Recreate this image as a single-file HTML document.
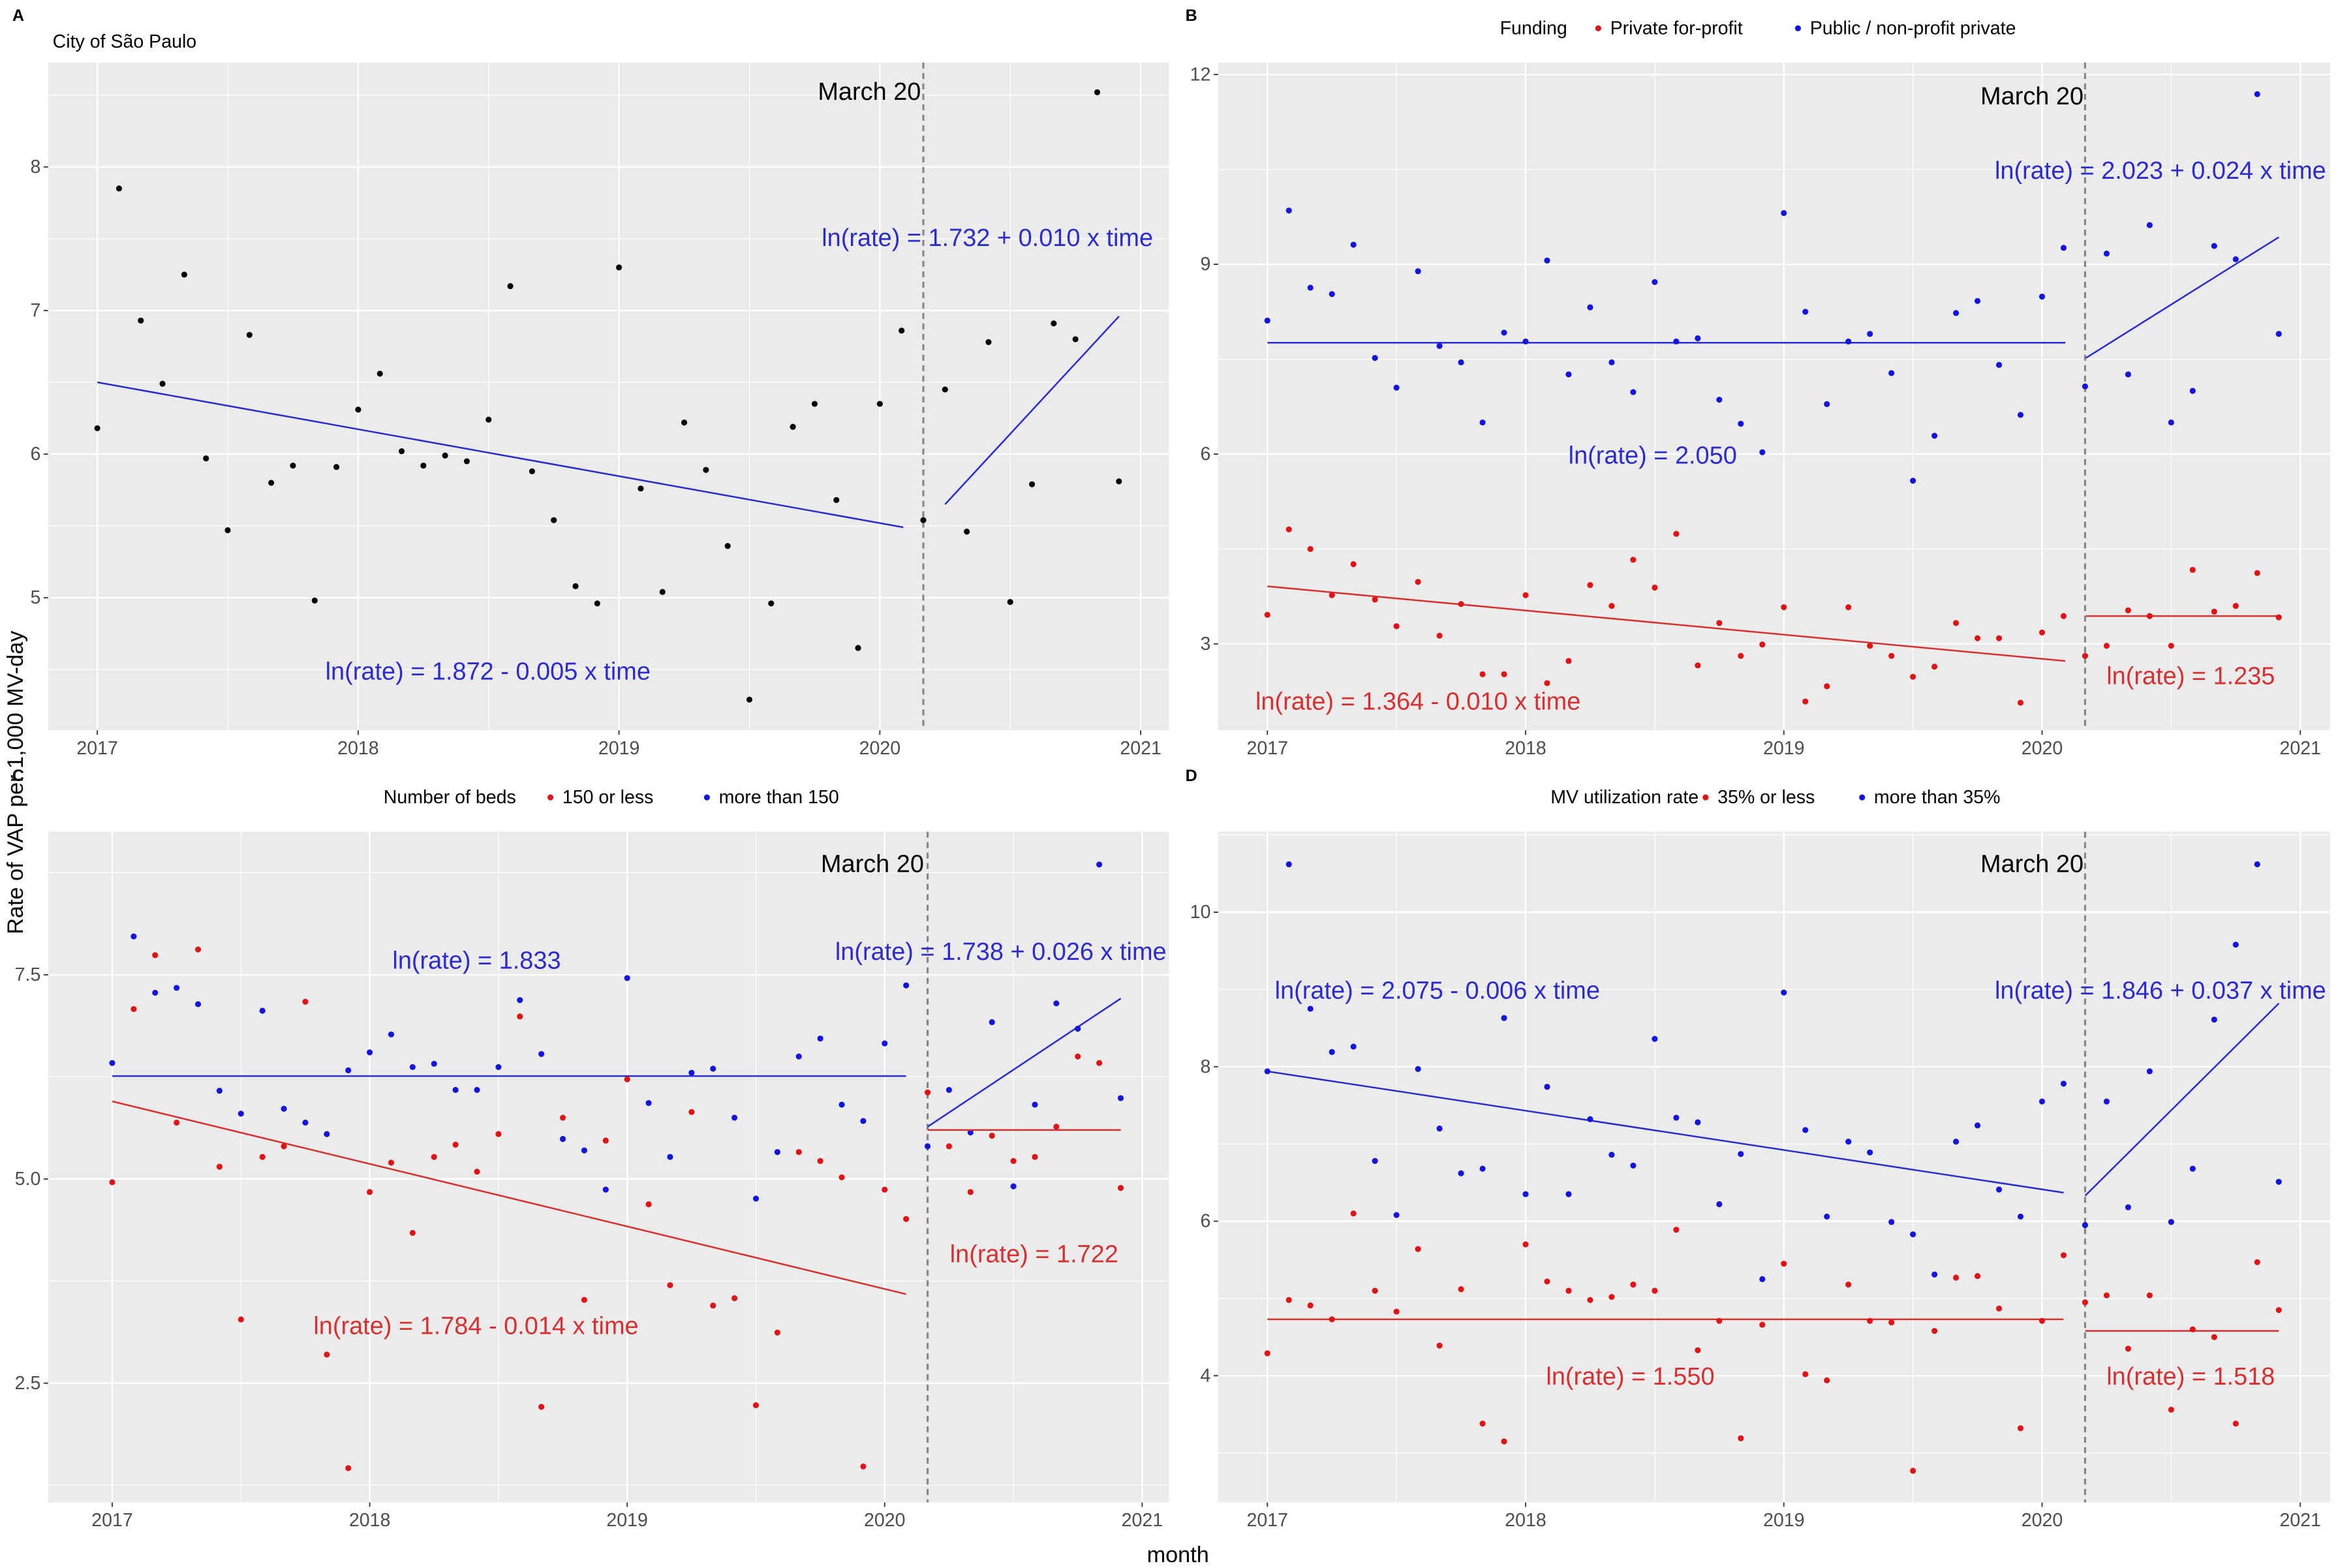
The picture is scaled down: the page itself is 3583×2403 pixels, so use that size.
<!DOCTYPE html>
<html><head><meta charset="utf-8"><style>
html,body{margin:0;padding:0;background:#fff}
svg{display:block}
text{font-family:"Liberation Sans",sans-serif}
</style></head><body>
<svg id="chart" width="3583" height="2403" viewBox="0 0 1568 1052" xmlns="http://www.w3.org/2000/svg"></svg>
<script>
// ---- data (monthly, Jan 2017 .. Dec 2020) ----
const years = [2017, 2018, 2019, 2020, 2021];
const aRate = [6.18,7.85,6.93,6.49,7.25,5.97,5.47,6.83,5.80,5.92,4.98,5.91,6.31,6.56,6.02,5.92,5.99,5.95,6.24,7.17,5.88,5.54,5.08,4.96,7.30,5.76,5.04,6.22,5.89,5.36,4.29,4.96,6.19,6.35,5.68,4.65,6.35,6.86,5.54,6.45,5.46,6.78,4.97,5.79,6.91,6.80,8.52,5.81];
const bPublic = [8.11,9.85,8.63,8.53,9.31,7.52,7.05,8.89,7.71,7.45,6.50,7.92,7.78,9.06,7.26,8.32,7.45,6.98,8.72,7.78,7.83,6.86,6.48,6.03,9.81,8.25,6.79,7.78,7.90,7.28,5.58,6.29,8.23,8.42,7.41,6.62,8.49,9.26,7.07,9.17,7.26,9.62,6.50,7.00,9.29,9.08,11.69,7.90];
const bPrivate = [3.46,4.81,4.50,3.77,4.26,3.70,3.28,3.98,3.13,3.63,2.52,2.52,3.77,2.38,2.73,3.93,3.60,4.33,3.89,4.74,2.66,3.33,2.81,2.99,3.58,2.09,2.33,3.58,2.97,2.81,2.48,2.64,3.33,3.09,3.09,2.07,3.18,3.44,2.81,2.97,3.53,3.44,2.97,4.17,3.51,3.60,4.12,3.42];
const cLarge = [6.42,7.97,7.28,7.34,7.14,6.08,5.80,7.06,5.86,5.69,5.55,6.33,6.55,6.77,6.37,6.41,6.09,6.09,6.37,7.19,6.53,5.49,5.35,4.87,7.46,5.93,5.27,6.30,6.35,5.75,4.76,5.33,6.50,6.72,5.91,5.71,6.66,7.37,5.40,6.09,5.57,6.92,4.91,5.91,7.15,6.84,8.85,5.99];
const cSmall = [4.96,7.08,7.74,5.69,7.81,5.15,3.28,5.27,5.40,7.17,2.85,1.46,4.84,5.20,4.34,5.27,5.42,5.09,5.55,6.99,2.21,5.75,3.52,5.47,6.22,4.69,3.70,5.82,3.45,3.54,2.23,3.12,5.33,5.22,5.02,1.48,4.87,4.51,6.06,5.40,4.84,5.53,5.22,5.27,5.64,6.50,6.42,4.89];
const dHigh = [7.94,10.62,8.75,8.19,8.26,6.78,6.08,7.97,7.20,6.62,6.68,8.63,6.35,7.74,6.35,7.32,6.86,6.72,8.36,7.34,7.28,6.22,6.87,5.25,8.96,7.18,6.06,7.03,6.89,5.99,5.83,5.31,7.03,7.24,6.41,6.06,7.55,7.78,5.95,7.55,6.18,7.94,5.99,6.68,8.61,9.58,10.62,6.51];
const dLow = [4.29,4.98,4.91,4.73,6.10,5.10,4.83,5.64,4.39,5.12,3.38,3.15,5.70,5.22,5.10,4.98,5.02,5.18,5.10,5.89,4.33,4.71,3.19,4.66,5.45,4.02,3.94,5.18,4.71,4.69,2.77,4.58,5.27,5.29,4.87,3.32,4.71,5.56,4.95,5.04,4.35,5.04,3.56,4.60,4.50,3.38,5.47,4.85];
// fitted segments: [tStart, valueStart, tEnd, valueEnd]
const aFits = [[2017,6.50,2020.09,5.49],[2020.25,5.65,2020.917,6.96]];
const bBlueFits = [[2017,7.76,2020.09,7.76],[2020.17,7.52,2020.917,9.43]];
const bRedFits = [[2017,3.91,2020.09,2.73],[2020.17,3.44,2020.917,3.44]];
const cBlueFits = [[2017,6.26,2020.083,6.26],[2020.167,5.64,2020.917,7.21]];
const cRedFits = [[2017,5.95,2020.083,3.59],[2020.167,5.60,2020.917,5.60]];
const dBlueFits = [[2017,7.94,2020.083,6.37],[2020.167,6.33,2020.917,8.82]];
const dRedFits = [[2017,4.73,2020.083,4.73],[2020.167,4.58,2020.917,4.58]];
const aTicks = [5,6,7,8];
const bTicks = [3,6,9,12];
const cTicks = [2.5,5.0,7.5];
const dTicks = [4,6,8,10];
const marchT = 2020 + 2/12;

const NS = 'http://www.w3.org/2000/svg';
const svg = document.getElementById('chart');
function el(tag, attrs, parent) {
  const e = document.createElementNS(NS, tag);
  for (const k in attrs) e.setAttribute(k, attrs[k]);
  (parent || svg).appendChild(e);
  return e;
}
function txt(s, attrs, parent) { const t = el('text', attrs, parent); t.textContent = s; return t; }

const BLUE = '#1414e0', RED = '#e01414', LBLUE = '#2b2bd0', LRED = '#d83030';

function panel(cfg) {
  const g = el('g', {});
  
  
  const {x0, x1, y0, y1} = cfg.box;
  const xs = t => cfg.xa + (t - 2017) * cfg.xk;
  const ys = v => cfg.ya + (v - cfg.va) * (cfg.yb - cfg.ya) / (cfg.vb - cfg.va);
  const bg = el('rect', {x:x0, y:y0, width:x1-x0, height:y1-y0, fill:'#ebebeb'}, g);
  
  
  for (let i = 0; i < years.length - 1; i++) {
    const x = xs(years[i] + 0.5);
    el('line', {x1:x, x2:x, y1:y0, y2:y1, stroke:'#fff', 'stroke-width':0.5}, g);
  }
  const tk = cfg.ticks, step = tk[1] - tk[0];
  for (let v = tk[0] - step / 2; v <= tk[tk.length-1] + step; v += step) {
    const y = ys(v);
    if (y > y0 && y < y1) el('line', {x1:x0, x2:x1, y1:y, y2:y, stroke:'#fff', 'stroke-width':0.5}, g);
  }
  years.forEach(yr => {
    const x = xs(yr);
    el('line', {x1:x, x2:x, y1:y0, y2:y1, stroke:'#fff', 'stroke-width':1.1}, g);
    el('line', {x1:x, x2:x, y1:y1, y2:y1+3, stroke:'#333', 'stroke-width':0.8}, g);
    const t = txt(String(yr), {x:x, y:y1+16, 'font-size':12.5, fill:'#4d4d4d', 'text-anchor':'middle'}, g);
    
    
  });
  tk.forEach(v => {
    const y = ys(v);
    el('line', {x1:x0, x2:x1, y1:y, y2:y, stroke:'#fff', 'stroke-width':1.1}, g);
    el('line', {x1:x0-3, x2:x0, y1:y, y2:y, stroke:'#333', 'stroke-width':0.8}, g);
    const t = txt(cfg.fmt ? v.toFixed(1) : String(v), {x:x0-5, y:y+4, 'font-size':12.5, fill:'#4d4d4d', 'text-anchor':'end'}, g);
    
    
  });
  const mx = xs(marchT);
  const ml = el('line', {x1:mx, x2:mx, y1:y0, y2:y1, stroke:'#888', 'stroke-width':1.4, 'stroke-dasharray':'4,3'}, g);
  
  
  cfg.series.forEach(s => {
    s.fits.forEach(f => {
      const ln = el('line', {x1:xs(f[0]), y1:ys(f[1]), x2:xs(f[2]), y2:ys(f[3]), stroke:s.line, 'stroke-width':1.1}, g);
      
      
    });
    s.data.forEach((v, i) => {
      const c = el('circle', {cx:xs(2017 + i/12), cy:ys(v), r:2, fill:s.color}, g);
      
      
    });
  });
  cfg.notes.forEach(n => {
    const t = txt(n[0], {x:n[1], y:n[2], 'font-size':16.6, fill:n[3], 'text-anchor':n[4] || 'start'}, g);
    
    
  });
}

panel({name:'panel-a', box:{x0:32,x1:784,y0:42,y1:490}, xa:65, xk:175, ya:401, yb:112, va:5, vb:8, ticks:aTicks,
  series:[{data:aRate, color:'#000', line:LBLUE, fits:aFits}],
  notes:[['March 20',583,67,'#000','middle'],['ln(rate) = 1.732 + 0.010 x time',551,165,LBLUE],['ln(rate) = 1.872 - 0.005 x time',218,456,LBLUE]]});
panel({name:'panel-b', box:{x0:817,x1:1563,y0:42,y1:490}, xa:850, xk:173.25, ya:432, yb:50, va:3, vb:12, ticks:bTicks,
  series:[{data:bPublic, color:BLUE, line:LBLUE, fits:bBlueFits},{data:bPrivate, color:RED, line:LRED, fits:bRedFits}],
  notes:[['March 20',1363,70,'#000','middle'],['ln(rate) = 2.023 + 0.024 x time',1338,120,LBLUE],['ln(rate) = 2.050',1052,311,LBLUE],['ln(rate) = 1.364 - 0.010 x time',842,476,LRED],['ln(rate) = 1.235',1413,459,LRED]]});
panel({name:'panel-c', box:{x0:32,x1:784,y0:558,y1:1008}, xa:75, xk:172.75, ya:791, yb:654, va:5, vb:7.5, ticks:cTicks, fmt:true,
  series:[{data:cLarge, color:BLUE, line:LBLUE, fits:cBlueFits},{data:cSmall, color:RED, line:LRED, fits:cRedFits}],
  notes:[['March 20',585,585,'#000','middle'],['ln(rate) = 1.833',263,650,LBLUE],['ln(rate) = 1.738 + 0.026 x time',560,644,LBLUE],['ln(rate) = 1.722',637,847,LRED],['ln(rate) = 1.784 - 0.014 x time',210,895,LRED]]});
panel({name:'panel-d', box:{x0:817,x1:1563,y0:558,y1:1008}, xa:850, xk:173.25, ya:923, yb:612, va:4, vb:10, ticks:dTicks,
  series:[{data:dHigh, color:BLUE, line:LBLUE, fits:dBlueFits},{data:dLow, color:RED, line:LRED, fits:dRedFits}],
  notes:[['March 20',1363,585,'#000','middle'],['ln(rate) = 2.075 - 0.006 x time',855,670,LBLUE],['ln(rate) = 1.846 + 0.037 x time',1338,670,LBLUE],['ln(rate) = 1.550',1037,929,LRED],['ln(rate) = 1.518',1413,929,LRED]]});

[['A',8,14],['B',795,14],['C',8,524],['D',795,524]].forEach(p => {
  const t = txt(p[0], {x:p[1], y:p[2], 'font-size':11, 'font-weight':'bold', fill:'#000'});
  
  
});
const ttl = txt('City of São Paulo', {x:35, y:32, 'font-size':12.5, fill:'#000'});



function legend(name, title, tx, y, rx, rl, bx, bl) {
  const g = el('g', {});
  
  
  txt(title, {x:tx, y:y, 'font-size':12.5, fill:'#000'}, g);
  el('circle', {cx:rx, cy:y-4, r:2, fill:RED}, g);
  txt(rl, {x:rx+8, y:y, 'font-size':12.5, fill:'#000'}, g);
  el('circle', {cx:bx, cy:y-4, r:2, fill:BLUE}, g);
  txt(bl, {x:bx+8, y:y, 'font-size':12.5, fill:'#000'}, g);
}
legend('legend-funding', 'Funding', 1006, 23, 1072, 'Private for-profit', 1206, 'Public / non-profit private');
legend('legend-beds', 'Number of beds', 257, 539, 369, '150 or less', 474, 'more than 150');
legend('legend-mv-utilization', 'MV utilization rate', 1040, 539, 1144, '35% or less', 1249, 'more than 35%');

const yt = txt('Rate of VAP per 1,000 MV-day', {x:0, y:0, 'font-size':15, fill:'#000', 'text-anchor':'middle', transform:'translate(15,525) rotate(-90)'});


const xt = txt('month', {x:790, y:1048, 'font-size':15, fill:'#000', 'text-anchor':'middle'});


</script>
</body></html>
